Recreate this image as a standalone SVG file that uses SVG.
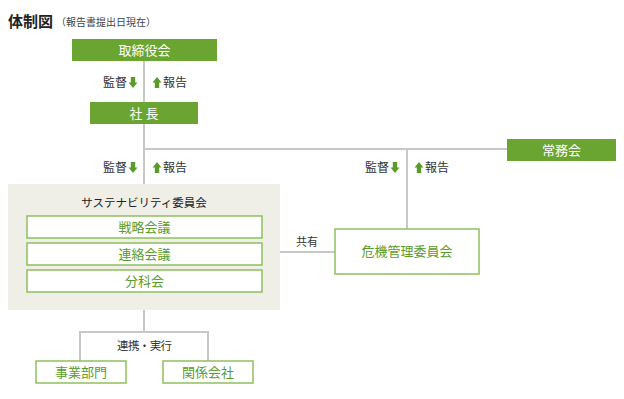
<svg xmlns="http://www.w3.org/2000/svg" xmlns:xlink="http://www.w3.org/1999/xlink" width="624" height="399" viewBox="0 0 624 399">
<style>
text{font-family:"Noto Sans CJK JP","Noto Sans",sans-serif}
.gbox{fill:#6aa532}
.wbox{fill:#fff;stroke:#8dc15c;stroke-width:1.5}
.wt{fill:#fff;font-size:13px;text-anchor:middle}
.gt{fill:#5a9b2a;font-size:13px;text-anchor:middle}
.lbl{fill:#333;font-size:12px}
.ln{stroke:#c8c8c8;stroke-width:2;fill:none}
.arr{fill:#5a9b2a}
</style>
<defs>
<path id="dn" class="arr" d="M-2.2,0H2.2V5.5H4.5L0,11L-4.5,5.5H-2.2Z"/>
<path id="up" class="arr" d="M-2.2,11H2.2V5.5H4.5L0,0L-4.5,5.5H-2.2Z"/>
</defs>
<text x="8" y="27" style="font-size:15px;font-weight:bold;fill:#222">体制図</text>
<text x="56" y="26" style="font-size:10px;fill:#444">（報告書提出日現在）</text>

<g id="connectors">
<path class="ln" d="M144,61V102M144,124V184M144,149H507M407,149V229M280,252H335M144,310V332M80,361V332H208V361"/>
<g id="labels">
<text class="lbl" x="103" y="87">監督</text><use xlink:href="#dn" x="133" y="77"/>
<use xlink:href="#up" x="157" y="77"/><text class="lbl" x="163" y="87">報告</text>
<text class="lbl" x="103" y="172">監督</text><use xlink:href="#dn" x="133" y="162"/>
<use xlink:href="#up" x="157" y="162"/><text class="lbl" x="163" y="172">報告</text>
<text class="lbl" x="365" y="172">監督</text><use xlink:href="#dn" x="395" y="162"/>
<use xlink:href="#up" x="419" y="162"/><text class="lbl" x="425" y="172">報告</text>
<text class="lbl" x="296" y="246" style="font-size:11px">共有</text>
<text class="lbl" x="117" y="350" style="font-size:11.5px;letter-spacing:-0.6px">連携・実行</text>
</g>
</g>

<g id="board"><rect class="gbox" x="72" y="39" width="145" height="22"/><text class="wt" x="144.5" y="55">取締役会</text></g>
<g id="president"><rect class="gbox" x="90" y="102" width="108" height="22"/><text class="wt" x="144" y="118">社 長</text></g>
<g id="executive"><rect class="gbox" x="507" y="139" width="109" height="22"/><text class="wt" x="561.5" y="155">常務会</text></g>
<g id="sustainability">
<rect x="8" y="184" width="272" height="126" fill="#efeee7"/>
<text x="144" y="207" style="font-size:11.5px;fill:#222;text-anchor:middle">サステナビリティ委員会</text>
<g id="strategy"><rect class="wbox" x="27" y="216" width="235" height="22"/><text class="gt" x="144.5" y="232">戦略会議</text></g>
<g id="liaison"><rect class="wbox" x="27" y="243" width="235" height="22"/><text class="gt" x="144.5" y="259">連絡会議</text></g>
<g id="subcommittee"><rect class="wbox" x="27" y="270" width="235" height="22"/><text class="gt" x="144.5" y="286">分科会</text></g>
</g>
<g id="crisis"><rect class="wbox" x="335" y="229" width="144" height="45"/><text class="gt" x="407" y="256">危機管理委員会</text></g>
<g id="business"><rect class="wbox" x="36" y="361" width="90" height="22"/><text class="gt" x="81" y="377">事業部門</text></g>
<g id="affiliates"><rect class="wbox" x="163" y="361" width="90" height="22"/><text class="gt" x="208" y="377">関係会社</text></g>
</svg>
